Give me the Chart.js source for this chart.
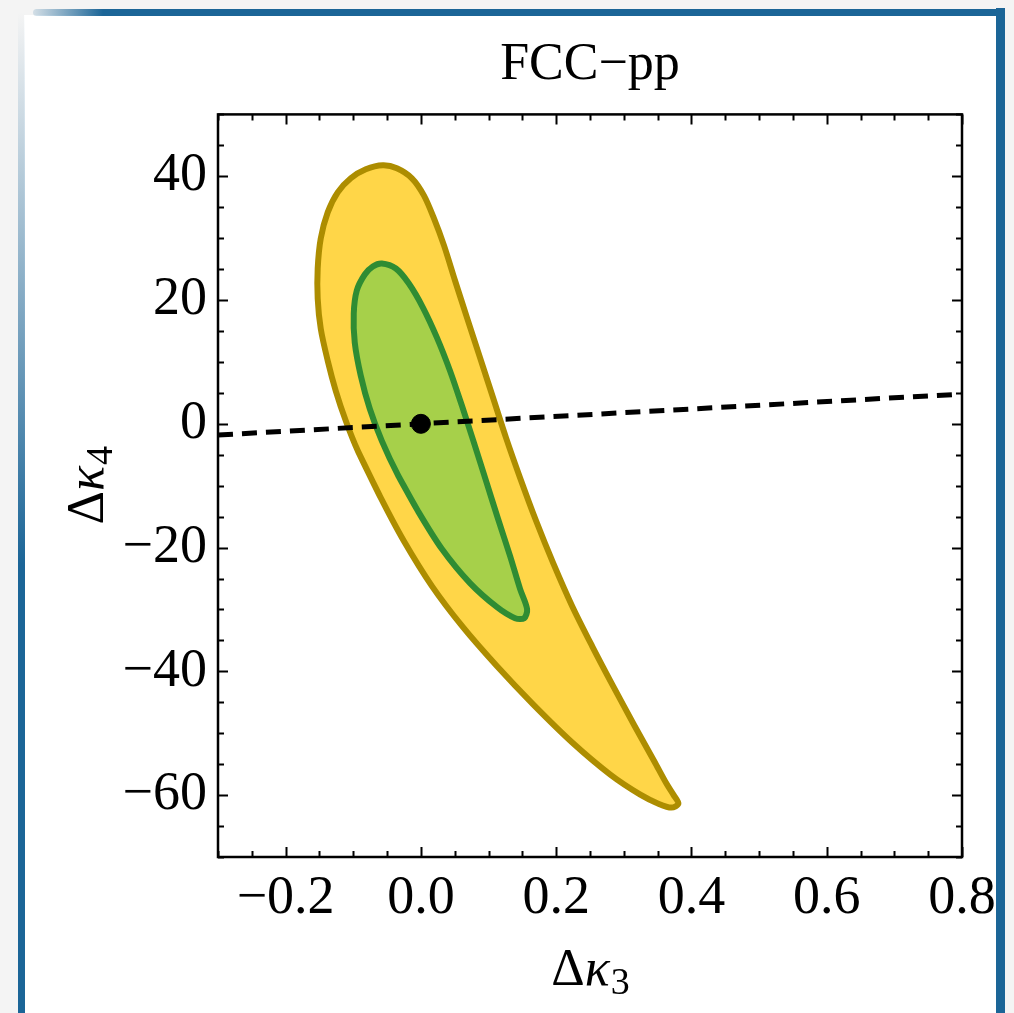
<!DOCTYPE html>
<html>
<head>
<meta charset="utf-8">
<script src="https://cdn.jsdelivr.net/npm/chart.js@4.4.0/dist/chart.umd.min.js"></script>
<style>
  html, body { margin: 0; padding: 0; background: #f4f4f4; }
  #wrap { position: relative; width: 1014px; height: 1013px; overflow: hidden; }
  .card { position: absolute; left: 24px; top: 15px; width: 974px; height: 1000px; background: #fff; }
  .edge-top { position: absolute; left: 33px; top: 9px; width: 972px; height: 7px;
    background: linear-gradient(to right, rgba(27,101,151,0.15), #1b6597 70px); border-radius: 4px 0 0 4px; }
  .edge-right { position: absolute; left: 996px; top: 8px; width: 9px; height: 1010px; background: #1b6597; }
  .edge-left { position: absolute; left: 18px; top: 12px; width: 7px; height: 1005px;
    background: linear-gradient(to bottom, rgba(27,101,151,0) 0%, rgba(27,101,151,0.45) 25%, #1b6597 55%); }
  canvas { position: absolute; left: 0; top: 0; }
</style>
</head>
<body>
<div id="wrap">
  <div class="card"></div>
  <div class="edge-top"></div>
  <div class="edge-right"></div>
  <div class="edge-left"></div>
  <canvas id="chart" width="1014" height="1013"></canvas>
</div>
<script>
// outer (yellow) region, traced from the lower left side, round the tip and back up;
// the last two points repeat the first two so the closing join stays smooth
const outerX = [-0.0933, -0.0593, -0.0252, 0.0163, 0.0622, 0.1126, 0.1659, 0.2237, 0.2800, 0.3244, 0.3511,
  0.3704, 0.3807, 0.3733, 0.3630, 0.3452, 0.3156, 0.2844, 0.2533, 0.2237, 0.1956, 0.1704, 0.1467, 0.1259, 0.1067,
  0.0874, 0.0681, 0.0504, 0.0341, 0.0193, 0.0044, -0.0133, -0.0356, -0.0563, -0.0815, -0.1037, -0.1230, -0.1378,
  -0.1481, -0.1526, -0.1526, -0.1481, -0.1378, -0.1259, -0.1111, -0.0933, -0.0593];
const outerY = [-4.37, -11.98, -18.95, -26.23, -32.87, -39.19, -45.34, -51.50, -56.68, -59.92, -61.38,
  -62.02, -61.38, -59.92, -58.14, -54.57, -48.74, -42.43, -35.95, -29.47, -22.51, -15.71, -8.74, -2.27, 4.21,
  10.69, 17.17, 23.16, 28.83, 33.20, 36.92, 39.68, 41.30, 41.78, 41.13, 39.68, 37.41, 34.17,
  29.96, 25.10, 20.24, 15.38, 10.20, 5.34, 0.49, -4.37, -11.98];

// inner (green) region, same closing trick
const innerX = [-0.0341, -0.0044, 0.0311, 0.0726, 0.1126, 0.1393, 0.1526, 0.1570, 0.1467, 0.1319, 0.1141,
  0.0963, 0.0785, 0.0607, 0.0430, 0.0237, 0.0030, -0.0178, -0.0370, -0.0578, -0.0711, -0.0830, -0.0948, -0.0993,
  -0.0978, -0.0889, -0.0756, -0.0578, -0.0341, -0.0044];
const innerY = [-8.26, -14.09, -20.24, -25.75, -29.64, -31.42, -31.42, -29.96, -26.72, -21.38, -15.38,
  -9.23, -3.08, 2.91, 8.58, 13.93, 18.79, 22.67, 25.10, 25.91, 25.43, 24.13, 21.54, 17.81,
  13.12, 7.77, 2.43, -2.75, -8.26, -14.09];

// dashed reference line and best-fit point
const lineX = [-0.3, 0.8];
const lineY = [-1.8, 4.8];
const pointX = [0];
const pointY = [0];

const xTicks = [-0.2, 0.0, 0.2, 0.4, 0.6, 0.8];
const yTicks = [-60, -40, -20, 0, 20, 40];
const xRange = [-0.3, 0.8];
const yRange = [-70, 50];

const toPoints = (xs, ys) => xs.map((x, i) => ({ x: x, y: ys[i] }));
const minus = (s) => s.replace('-', '\u2212');
const serif = '"Liberation Serif", "DejaVu Serif", serif';

const frameTicks = {
  id: 'frameTicks',
  afterDatasetsDraw(chart) {
    const { ctx, chartArea: a, scales: { x, y } } = chart;
    ctx.save();
    ctx.strokeStyle = '#000';
    ctx.lineWidth = 2;
    ctx.beginPath();
    for (let v = -0.3; v <= 0.8001; v += 0.05) {
      const px = Math.round(x.getPixelForValue(v)) + 0.5;
      const major = xTicks.some((t) => Math.abs(t - v) < 1e-6);
      const len = major ? 10 : 6;
      ctx.moveTo(px, a.bottom); ctx.lineTo(px, a.bottom - len);
      ctx.moveTo(px, a.top); ctx.lineTo(px, a.top + len);
    }
    for (let v = -70; v <= 50; v += 5) {
      const py = Math.round(y.getPixelForValue(v)) + 0.5;
      const major = yTicks.includes(v);
      const len = major ? 10 : 6;
      ctx.moveTo(a.left, py); ctx.lineTo(a.left + len, py);
      ctx.moveTo(a.right, py); ctx.lineTo(a.right - len, py);
    }
    ctx.stroke();
    ctx.lineWidth = 2.5;
    ctx.strokeRect(a.left, a.top, a.right - a.left, a.bottom - a.top);
    ctx.restore();
  }
};

// axis titles: upright Delta, italic kappa, subscript index
const drawLabel = (ctx, sub) => {
  const big = '52px ' + serif;
  const ital = 'italic 52px ' + serif;
  const small = '38px ' + serif;
  ctx.font = big; const w1 = ctx.measureText('\u0394').width;
  ctx.font = ital; const w2 = ctx.measureText('\u03ba').width;
  ctx.font = small; const w3 = ctx.measureText(sub).width;
  let cx = -(w1 + w2 + w3) / 2;
  ctx.textBaseline = 'alphabetic';
  ctx.textAlign = 'left';
  ctx.font = big; ctx.fillText('\u0394', cx, 0); cx += w1;
  ctx.font = ital; ctx.fillText('\u03ba', cx, 0); cx += w2 + 1;
  ctx.font = small; ctx.fillText(sub, cx, 9);
};

const axisTitles = {
  id: 'axisTitles',
  afterDraw(chart) {
    const { ctx, chartArea: a } = chart;
    ctx.save();
    ctx.fillStyle = '#000';
    ctx.translate((a.left + a.right) / 2, 985);
    drawLabel(ctx, '3');
    ctx.restore();
    ctx.save();
    ctx.fillStyle = '#000';
    ctx.translate(103, (a.top + a.bottom) / 2);
    ctx.rotate(-Math.PI / 2);
    drawLabel(ctx, '4');
    ctx.restore();
  }
};

new Chart(document.getElementById('chart'), {
  type: 'line',
  data: {
    datasets: [
      {
        label: '95% CL',
        data: toPoints(outerX, outerY),
        borderColor: '#ad8d00',
        backgroundColor: '#ffd648',
        borderWidth: 6,
        fill: 'shape',
        pointRadius: 0,
        tension: 0.3,
        order: 4,
      },
      {
        label: '68% CL',
        data: toPoints(innerX, innerY),
        borderColor: '#2f8c33',
        backgroundColor: '#a6d04a',
        borderWidth: 6,
        fill: 'shape',
        pointRadius: 0,
        tension: 0.3,
        order: 3,
      },
      {
        label: 'line',
        data: toPoints(lineX, lineY),
        borderColor: '#000',
        borderWidth: 5,
        borderDash: [15, 9],
        fill: false,
        pointRadius: 0,
        order: 2,
      },
      {
        label: 'SM',
        data: toPoints(pointX, pointY),
        showLine: false,
        pointRadius: 9.5,
        pointBackgroundColor: '#000',
        pointBorderColor: '#000',
        order: 1,
      },
    ],
  },
  options: {
    responsive: false,
    animation: false,
    layout: { padding: { left: 0, right: 52, top: 0, bottom: 0 } },
    plugins: {
      legend: { display: false },
      tooltip: { enabled: false },
      title: {
        display: true,
        text: 'FCC\u2212pp',
        fullSize: false,
        color: '#000',
        font: { family: serif, size: 52, weight: 'normal' },
        padding: { top: 34, bottom: 18 },
      },
    },
    scales: {
      x: {
        type: 'linear',
        min: xRange[0],
        max: xRange[1],
        grid: { display: false },
        border: { display: false },
        afterBuildTicks: (s) => { s.ticks = xTicks.map((v) => ({ value: v })); },
        afterFit: (s) => { s.height = 156; },
        ticks: {
          color: '#000',
          padding: 1,
          maxRotation: 0,
          font: { family: serif, size: 54 },
          callback: (v) => minus(Number(v).toFixed(1)),
        },
      },
      y: {
        type: 'linear',
        min: yRange[0],
        max: yRange[1],
        grid: { display: false },
        border: { display: false },
        afterBuildTicks: (s) => { s.ticks = yTicks.map((v) => ({ value: v })); },
        afterFit: (s) => { s.width = 218; },
        ticks: {
          color: '#000',
          padding: 3,
          font: { family: serif, size: 54 },
          callback: (v) => minus(String(v)),
        },
      },
    },
  },
  plugins: [frameTicks, axisTitles],
});
</script>
</body>
</html>
